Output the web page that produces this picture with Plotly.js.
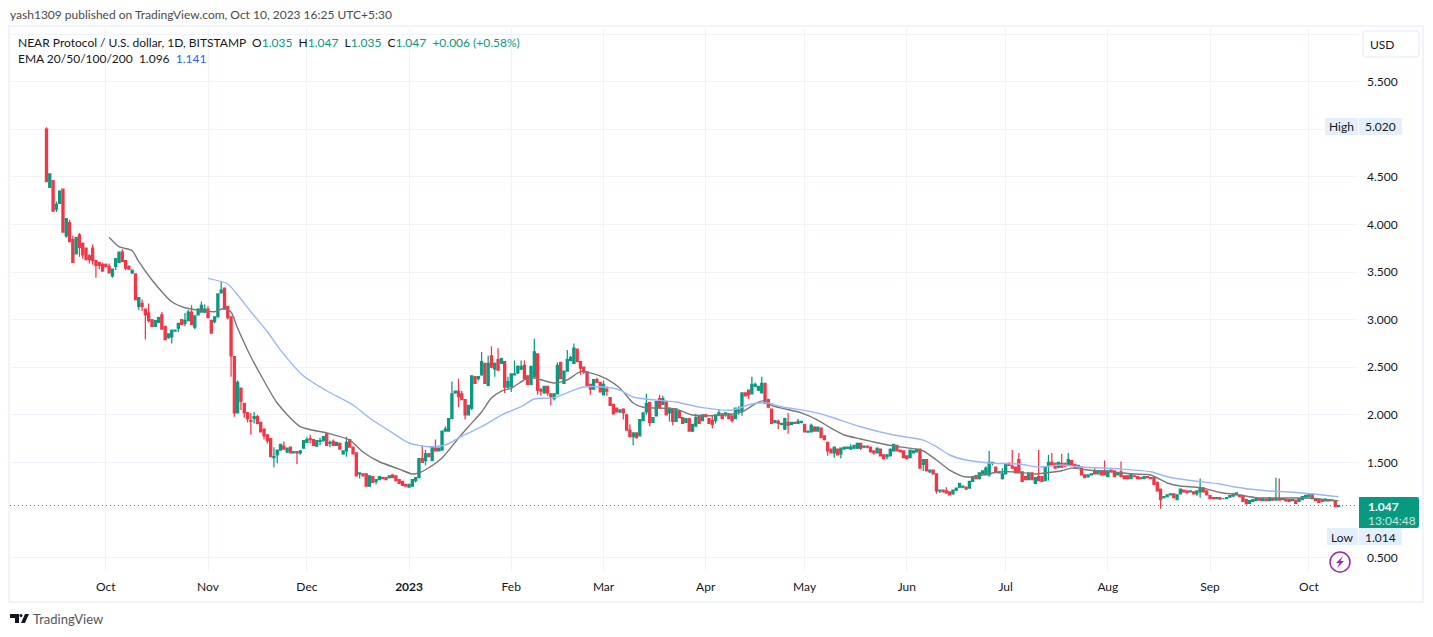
<!DOCTYPE html>
<html>
<head>
<meta charset="utf-8">
<script src="https://cdn.plot.ly/plotly-3.0.1.min.js"></script>
<style>
  html, body { margin: 0; padding: 0; background: #fff; }
  #chart { width: 1433px; height: 637px; }
</style>
</head>
<body>
<div id="chart"></div>
<script>
// daily candles, first one is 2022-09-13, one row = 10 days
const opens = [
  5.00,4.39,4.46,4.16,4.22,4.37,3.88,4.02,3.84,3.69,
  3.89,3.80,3.75,3.67,3.75,3.62,3.60,3.58,3.58,3.56,
  3.46,3.56,3.60,3.71,3.62,3.56,3.49,3.48,3.14,3.17,
  3.11,3.07,3.00,2.93,2.97,3.05,2.93,2.81,2.82,2.88,
  2.91,3.00,2.96,2.99,3.08,2.92,3.05,3.08,3.08,3.11,
  2.99,2.98,3.03,3.28,3.33,3.14,3.03,2.61,2.02,2.28,
  2.12,2.02,1.94,1.96,1.98,1.92,1.85,1.79,1.75,1.55,
  1.58,1.63,1.67,1.61,1.66,1.60,1.61,1.60,1.65,1.71,
  1.75,1.74,1.67,1.72,1.73,1.80,1.70,1.72,1.68,1.70,
  1.59,1.62,1.74,1.66,1.60,1.38,1.38,1.38,1.25,1.35,
  1.30,1.32,1.34,1.34,1.34,1.37,1.36,1.32,1.30,1.27,
  1.24,1.25,1.31,1.34,1.54,1.52,1.59,1.52,1.65,1.62,
  1.63,1.83,1.83,1.96,2.23,2.25,2.22,2.16,2.00,2.07,
  2.40,2.38,2.42,2.54,2.31,2.62,2.48,2.58,2.54,2.56,
  2.29,2.30,2.42,2.44,2.48,2.52,2.41,2.32,2.40,2.64,
  2.27,2.23,2.30,2.22,2.17,2.22,2.55,2.33,2.46,2.57,
  2.54,2.69,2.56,2.50,2.45,2.32,2.27,2.37,2.34,2.21,
  2.27,2.18,2.11,2.07,2.03,2.06,2.00,1.84,1.77,1.81,
  1.78,1.94,2.03,2.13,1.92,1.99,2.17,2.11,2.14,2.02,
  2.06,1.93,2.04,1.97,1.92,1.96,1.83,1.88,1.98,1.94,
  2.00,1.96,1.94,1.94,2.00,2.01,2.01,2.01,1.99,1.96,
  2.04,2.04,2.23,2.26,2.22,2.30,2.26,2.23,2.33,2.16,
  2.06,1.92,1.93,1.90,1.85,1.92,1.90,1.92,1.91,1.92,
  1.90,1.82,1.82,1.87,1.83,1.86,1.78,1.71,1.64,1.60,
  1.64,1.59,1.64,1.65,1.64,1.65,1.65,1.70,1.66,1.67,
  1.66,1.62,1.60,1.64,1.58,1.56,1.57,1.62,1.68,1.63,
  1.62,1.57,1.55,1.60,1.61,1.64,1.48,1.53,1.40,1.42,
  1.38,1.20,1.21,1.20,1.19,1.17,1.21,1.24,1.24,1.24,
  1.23,1.30,1.36,1.33,1.38,1.37,1.37,1.49,1.45,1.39,
  1.33,1.38,1.49,1.46,1.45,1.53,1.40,1.35,1.32,1.39,
  1.28,1.35,1.35,1.31,1.46,1.50,1.49,1.45,1.49,1.49,
  1.47,1.52,1.48,1.45,1.45,1.37,1.35,1.37,1.41,1.38,
  1.41,1.41,1.35,1.42,1.41,1.37,1.40,1.36,1.36,1.33,
  1.36,1.35,1.34,1.33,1.35,1.34,1.34,1.29,1.22,1.13,
  1.14,1.16,1.17,1.11,1.17,1.21,1.20,1.19,1.19,1.17,
  1.19,1.23,1.20,1.15,1.13,1.12,1.13,1.12,1.12,1.135,
  1.145,1.16,1.155,1.145,1.11,1.07,1.09,1.10,1.12,1.10,
  1.115,1.10,1.12,1.105,1.12,1.11,1.115,1.11,1.10,1.105,
  1.09,1.11,1.135,1.14,1.165,1.12,1.11,1.105,1.095,1.11,
  1.10,1.10,1.035
];
const highs = [
  5.02,4.53,4.46,4.24,4.36,4.37,4.06,4.05,3.88,3.87,
  3.91,3.81,3.75,3.69,3.79,3.63,3.60,3.60,3.59,3.59,
  3.53,3.64,3.71,3.74,3.62,3.57,3.52,3.48,3.23,3.21,
  3.11,3.17,3.00,2.99,3.03,3.08,2.93,2.85,2.89,2.89,
  2.96,3.00,3.07,3.10,3.15,3.04,3.12,3.19,3.16,3.14,
  3.00,3.03,3.27,3.40,3.33,3.14,3.03,2.61,2.36,2.28,
  2.12,2.03,2.02,2.03,2.00,1.92,1.85,1.79,1.75,1.66,
  1.63,1.69,1.72,1.65,1.66,1.62,1.62,1.63,1.73,1.77,
  1.79,1.74,1.73,1.76,1.77,1.81,1.73,1.74,1.71,1.71,
  1.62,1.77,1.74,1.66,1.60,1.39,1.38,1.38,1.36,1.35,
  1.32,1.35,1.35,1.34,1.36,1.37,1.36,1.32,1.30,1.27,
  1.27,1.32,1.34,1.54,1.68,1.63,1.60,1.66,1.74,1.65,
  1.83,1.88,1.96,2.35,2.25,2.38,2.25,2.16,2.10,2.41,
  2.40,2.40,2.66,2.54,2.62,2.72,2.55,2.70,2.60,2.56,
  2.40,2.43,2.57,2.52,2.57,2.57,2.41,2.51,2.80,2.64,
  2.27,2.30,2.30,2.22,2.22,2.55,2.55,2.46,2.68,2.62,
  2.75,2.69,2.56,2.50,2.45,2.32,2.37,2.39,2.34,2.36,
  2.30,2.18,2.11,2.07,2.06,2.07,2.00,1.90,1.81,1.81,
  1.95,2.02,2.22,2.13,1.97,2.14,2.21,2.20,2.14,2.07,
  2.07,2.07,2.04,1.97,1.96,1.96,1.90,2.01,2.00,2.00,
  2.01,1.96,1.99,2.00,2.06,2.01,2.02,2.02,1.99,2.07,
  2.09,2.23,2.23,2.26,2.40,2.34,2.30,2.40,2.33,2.17,
  2.06,1.94,1.95,1.91,1.97,2.02,1.92,1.92,1.96,1.93,
  1.90,1.83,1.91,1.88,1.87,1.87,1.78,1.71,1.64,1.66,
  1.64,1.65,1.66,1.66,1.69,1.68,1.71,1.70,1.67,1.67,
  1.66,1.62,1.65,1.64,1.58,1.58,1.64,1.69,1.68,1.63,
  1.62,1.57,1.63,1.62,1.64,1.64,1.53,1.53,1.42,1.42,
  1.38,1.21,1.21,1.24,1.19,1.21,1.23,1.28,1.25,1.24,
  1.30,1.35,1.37,1.39,1.41,1.46,1.62,1.50,1.45,1.40,
  1.44,1.48,1.50,1.63,1.45,1.60,1.40,1.35,1.39,1.39,
  1.34,1.63,1.35,1.45,1.58,1.60,1.49,1.50,1.59,1.49,
  1.60,1.52,1.48,1.47,1.45,1.37,1.37,1.38,1.44,1.41,
  1.41,1.52,1.41,1.42,1.41,1.39,1.51,1.36,1.36,1.38,
  1.36,1.35,1.34,1.35,1.35,1.34,1.34,1.29,1.22,1.14,
  1.16,1.17,1.17,1.16,1.22,1.21,1.20,1.20,1.19,1.20,
  1.33,1.23,1.20,1.155,1.13,1.13,1.13,1.125,1.13,1.15,
  1.17,1.18,1.155,1.145,1.11,1.10,1.11,1.125,1.12,1.12,
  1.115,1.13,1.12,1.34,1.33,1.12,1.115,1.11,1.11,1.105,
  1.12,1.14,1.155,1.17,1.175,1.12,1.11,1.105,1.115,1.11,
  1.105,1.10,1.047
];
const lows = [
  4.45,4.39,4.14,4.13,4.22,3.92,3.86,3.82,3.60,3.69,
  3.66,3.64,3.63,3.59,3.58,3.44,3.53,3.51,3.55,3.49,
  3.44,3.52,3.60,3.61,3.52,3.53,3.48,3.21,3.10,3.09,
  2.79,2.97,2.93,2.93,2.97,2.90,2.79,2.80,2.75,2.88,
  2.87,2.95,2.93,2.99,2.95,2.90,3.05,3.08,3.07,3.02,
  2.85,2.96,3.03,3.28,3.11,3.00,2.40,1.98,2.02,2.05,
  1.97,1.92,1.79,1.91,1.90,1.82,1.74,1.70,1.56,1.45,
  1.49,1.63,1.64,1.60,1.60,1.60,1.48,1.58,1.65,1.71,
  1.70,1.68,1.67,1.68,1.72,1.68,1.66,1.68,1.68,1.64,
  1.58,1.56,1.66,1.59,1.36,1.33,1.36,1.25,1.25,1.29,
  1.27,1.32,1.33,1.32,1.33,1.34,1.31,1.28,1.26,1.25,
  1.24,1.25,1.29,1.34,1.50,1.47,1.56,1.52,1.62,1.62,
  1.63,1.83,1.83,1.96,2.22,2.08,2.16,1.95,2.00,2.05,
  2.33,2.36,2.41,2.33,2.30,2.49,2.40,2.46,2.54,2.23,
  2.28,2.24,2.42,2.43,2.47,2.38,2.32,2.32,2.40,2.21,
  2.20,2.22,2.20,2.10,2.15,2.22,2.38,2.33,2.46,2.57,
  2.54,2.56,2.42,2.43,2.31,2.21,2.27,2.34,2.24,2.21,
  2.20,2.10,2.01,2.03,2.02,1.95,1.84,1.77,1.68,1.75,
  1.78,1.94,2.00,1.88,1.92,1.99,2.07,2.11,2.00,1.93,
  1.89,1.93,1.97,1.91,1.92,1.83,1.82,1.88,1.91,1.94,
  1.98,1.91,1.86,1.91,2.00,1.96,1.98,1.96,1.92,1.96,
  2.00,1.99,2.20,2.17,2.22,2.30,2.25,2.23,2.12,2.08,
  1.91,1.91,1.85,1.89,1.84,1.80,1.90,1.91,1.91,1.91,
  1.82,1.81,1.82,1.83,1.83,1.76,1.74,1.57,1.60,1.55,
  1.58,1.54,1.64,1.64,1.64,1.64,1.64,1.63,1.65,1.65,
  1.61,1.58,1.60,1.57,1.53,1.53,1.57,1.62,1.62,1.61,
  1.55,1.53,1.55,1.60,1.61,1.44,1.41,1.41,1.39,1.38,
  1.17,1.18,1.19,1.17,1.16,1.16,1.20,1.23,1.23,1.22,
  1.23,1.30,1.33,1.32,1.38,1.37,1.35,1.47,1.40,1.39,
  1.32,1.38,1.47,1.44,1.39,1.39,1.30,1.32,1.32,1.32,
  1.28,1.31,1.30,1.31,1.31,1.48,1.44,1.44,1.45,1.46,
  1.47,1.47,1.45,1.45,1.37,1.34,1.34,1.37,1.38,1.38,
  1.37,1.37,1.35,1.40,1.35,1.37,1.35,1.33,1.33,1.33,
  1.35,1.33,1.33,1.33,1.34,1.33,1.27,1.20,1.014,1.12,
  1.14,1.16,1.13,1.11,1.17,1.19,1.18,1.19,1.17,1.15,
  1.13,1.19,1.16,1.12,1.115,1.115,1.115,1.115,1.115,1.13,
  1.14,1.155,1.14,1.09,1.065,1.065,1.085,1.095,1.105,1.095,
  1.10,1.095,1.105,1.10,1.105,1.105,1.095,1.09,1.095,1.07,
  1.085,1.105,1.13,1.135,1.12,1.10,1.08,1.09,1.09,1.095,
  1.095,1.035,1.035
];
const closes = [
  4.45,4.53,4.14,4.21,4.35,3.92,4.06,3.82,3.60,3.86,
  3.76,3.68,3.63,3.63,3.62,3.57,3.57,3.51,3.56,3.49,
  3.53,3.64,3.71,3.61,3.54,3.53,3.52,3.21,3.23,3.14,
  3.05,2.99,2.93,2.99,3.02,2.90,2.79,2.85,2.89,2.89,
  2.96,2.95,2.99,3.08,2.95,3.04,3.11,3.15,3.11,3.02,
  2.86,3.03,3.27,3.31,3.11,3.02,2.62,2.02,2.34,2.14,
  2.02,1.96,1.93,1.98,1.91,1.82,1.78,1.73,1.56,1.56,
  1.63,1.69,1.64,1.65,1.60,1.61,1.60,1.62,1.73,1.74,
  1.74,1.68,1.73,1.73,1.77,1.68,1.71,1.68,1.71,1.64,
  1.62,1.71,1.66,1.59,1.36,1.39,1.36,1.25,1.36,1.29,
  1.32,1.35,1.33,1.32,1.36,1.34,1.31,1.28,1.26,1.25,
  1.27,1.32,1.34,1.54,1.50,1.59,1.56,1.66,1.62,1.65,
  1.83,1.85,1.96,2.22,2.25,2.19,2.16,2.00,2.10,2.41,
  2.33,2.40,2.56,2.33,2.54,2.50,2.54,2.47,2.59,2.29,
  2.35,2.43,2.43,2.51,2.51,2.38,2.32,2.51,2.66,2.26,
  2.25,2.30,2.23,2.19,2.22,2.52,2.38,2.46,2.58,2.60,
  2.70,2.56,2.49,2.45,2.31,2.27,2.37,2.34,2.24,2.32,
  2.25,2.10,2.01,2.03,2.05,2.02,1.84,1.77,1.81,1.76,
  1.95,2.02,2.12,1.92,1.97,2.14,2.07,2.17,2.00,2.07,
  1.93,2.06,1.97,1.91,1.96,1.83,1.90,1.97,1.91,2.00,
  1.98,1.91,1.90,2.00,2.02,1.96,2.02,1.96,1.94,2.07,
  2.05,2.23,2.20,2.21,2.32,2.32,2.30,2.33,2.12,2.08,
  1.91,1.94,1.91,1.91,1.96,1.89,1.92,1.91,1.93,1.93,
  1.82,1.83,1.89,1.83,1.87,1.76,1.74,1.62,1.60,1.66,
  1.58,1.65,1.66,1.66,1.66,1.68,1.70,1.65,1.67,1.66,
  1.61,1.60,1.65,1.57,1.54,1.58,1.64,1.69,1.62,1.61,
  1.55,1.54,1.63,1.62,1.64,1.44,1.53,1.41,1.42,1.38,
  1.20,1.21,1.19,1.18,1.16,1.21,1.23,1.28,1.25,1.22,
  1.30,1.35,1.33,1.39,1.41,1.44,1.50,1.50,1.40,1.40,
  1.38,1.48,1.47,1.44,1.39,1.39,1.30,1.32,1.39,1.32,
  1.34,1.31,1.30,1.45,1.50,1.48,1.44,1.50,1.45,1.46,
  1.53,1.47,1.45,1.47,1.37,1.34,1.37,1.38,1.38,1.41,
  1.37,1.37,1.41,1.40,1.35,1.39,1.35,1.33,1.33,1.38,
  1.35,1.33,1.33,1.35,1.34,1.33,1.27,1.20,1.11,1.14,
  1.16,1.17,1.13,1.16,1.22,1.19,1.18,1.20,1.17,1.20,
  1.23,1.19,1.16,1.12,1.12,1.13,1.115,1.12,1.13,1.15,
  1.17,1.18,1.14,1.09,1.065,1.10,1.11,1.125,1.105,1.12,
  1.10,1.13,1.105,1.125,1.105,1.12,1.095,1.09,1.11,1.07,
  1.12,1.14,1.155,1.17,1.12,1.10,1.08,1.09,1.115,1.095,
  1.105,1.035,1.047
];

// EMA lines, day = days after the first candle
const emaDarkDays = [19,22,26,28,32,35,38,42,46,51,54,56,58,62,65,70,77,85,92,96,101,107,111,113,116,120,125,128,132,135,138,141,146,148,154,158,162,165,170,174,178,181,186,191,196,201,206,211,216,218,220,229,234,238,242,247,252,257,262,266,270,274,279,284,289,294,300,303,308,311,316,324,330,335,340,344,350,356,362,367,374,382,392];
const emaDark = [3.865,3.766,3.724,3.608,3.416,3.293,3.188,3.125,3.10,3.083,3.12,3.08,2.91,2.61,2.418,2.124,1.875,1.81,1.735,1.61,1.507,1.43,1.378,1.39,1.444,1.546,1.756,1.875,2.03,2.176,2.25,2.28,2.387,2.387,2.334,2.366,2.453,2.44,2.376,2.28,2.124,2.08,2.07,2.06,1.998,1.99,1.998,2.03,2.134,2.148,2.10,2.02,1.945,1.86,1.788,1.746,1.707,1.672,1.65,1.62,1.525,1.42,1.347,1.368,1.40,1.40,1.378,1.389,1.413,1.44,1.42,1.40,1.378,1.368,1.284,1.252,1.236,1.184,1.158,1.13,1.126,1.126,1.096];
const emaBlueDays = [49,55,58,62,67,71,78,85,93,98,105,110,116,121,126,132,138,144,148,154,160,163,169,174,178,182,191,199,208,214,219,223,232,238,247,257,266,270,274,279,286,295,301,308,314,326,335,340,346,356,360,370,380,392];
const emaBlue = [3.433,3.374,3.258,3.083,2.873,2.68,2.408,2.253,2.103,1.966,1.81,1.704,1.665,1.683,1.777,1.875,1.998,2.085,2.166,2.18,2.26,2.292,2.292,2.26,2.187,2.166,2.134,2.075,2.05,2.113,2.124,2.085,2.033,1.977,1.875,1.788,1.735,1.665,1.578,1.525,1.494,1.483,1.452,1.473,1.452,1.43,1.402,1.35,1.315,1.273,1.245,1.203,1.182,1.141];

const monthDates = ['2022-10-01','2022-11-01','2022-12-01','2023-01-01','2023-02-01','2023-03-01','2023-04-01','2023-05-01','2023-06-01','2023-07-01','2023-08-01','2023-09-01','2023-10-01'];
const monthLabels = ['Oct','Nov','Dec','<b>2023</b>','Feb','Mar','Apr','May','Jun','Jul','Aug','Sep','Oct'];
const priceTicks = [0.5,1.5,2,2.5,3,3.5,4,4.5,5,5.5,6];
const priceLabels = ['0.500','1.500','2.000','2.500','3.000','3.500','4.000','4.500','5.000','5.500',''];
const lastPrice = 1.047;

const UP = '#089981', DOWN = '#f23645', TXT = '#131722', GRID = '#f0f3fa', TAG = '#e3effd';
const FONT = 'Lato, sans-serif';

const W = 1433, H = 637;
const M = { l: 10, r: 75, t: 28, b: 65 };

// page pixels -> paper coords, for the furniture round the plot
const px = x => (x - M.l) / (W - M.l - M.r);
const py = y => 1 - (y - M.t) / (H - M.t - M.b);
const dayDate = d => new Date(Date.UTC(2022, 8, 13 + d)).toISOString().slice(0, 10);

const box = (x0, y0, x1, y1, fill, line) => ({
  type: 'rect', xref: 'paper', yref: 'paper', layer: 'above',
  x0: px(x0), x1: px(x1), y0: py(y0), y1: py(y1),
  fillcolor: fill, line: { color: line || fill, width: line ? 2 : 0 }
});
const pathShape = (d, fill, line, width) => ({
  type: 'path', xref: 'paper', yref: 'paper', layer: 'above',
  path: d.replace(/(-?[\d.]+),(-?[\d.]+)/g, (m, a, b) => px(+a) + ',' + py(+b)),
  fillcolor: fill, line: { color: line || fill, width: width || 0 }
});
const label = (x, y, text, opts) => Object.assign({
  xref: 'paper', yref: 'paper', x: px(x), y: py(y), text: text, showarrow: false,
  xanchor: 'left', yanchor: 'middle', align: 'left', borderpad: 0,
  font: { family: FONT, size: 12, color: TXT }
}, opts || {});
const span = (t, c) => '<span style="color:' + c + '">' + t + '</span>';

const candleDates = opens.map((_, i) => dayDate(i));

const traces = [
  {
    type: 'candlestick', x: candleDates, open: opens, high: highs, low: lows, close: closes,
    increasing: { line: { color: UP, width: 1.25 }, fillcolor: UP },
    decreasing: { line: { color: DOWN, width: 1.25 }, fillcolor: DOWN },
    whiskerwidth: 0, hoverinfo: 'skip'
  },
  { type: 'scatter', mode: 'lines', x: emaDarkDays.map(dayDate), y: emaDark, line: { color: '#787878', width: 1.4, shape: 'spline', smoothing: 0.7 }, hoverinfo: 'skip' },
  { type: 'scatter', mode: 'lines', x: emaBlueDays.map(dayDate), y: emaBlue, line: { color: '#9ab6fb', width: 1.4, shape: 'spline', smoothing: 0.7 }, hoverinfo: 'skip' }
];

const shapes = [
  // outer frame
  box(9, 26, 1423, 602, 'rgba(0,0,0,0)', GRID),
  // last price dotted line
  { type: 'line', xref: 'paper', yref: 'y', x0: 0, x1: 1, y0: lastPrice, y1: lastPrice, line: { color: UP, width: 1, dash: '1px,3px' } },
  // USD button
  pathShape('M1366,31 L1416,31 Q1419,31 1419,34 L1419,54 Q1419,57 1416,57 L1366,57 Q1363,57 1363,54 L1363,34 Q1363,31 1366,31 Z', '#fff', GRID, 2),
  // high / low tags
  box(1325, 118, 1358, 135, TAG), box(1359, 118, 1402, 135, TAG),
  box(1327, 528, 1358, 545, TAG), box(1359, 528, 1402, 545, TAG),
  // last price tag
  pathShape('M1359,497 L1417,497 Q1419,497 1419,499 L1419,526 Q1419,528 1417,528 L1359,528 Z', UP),
  // lightning button
  { type: 'circle', xref: 'paper', yref: 'paper', layer: 'above', x0: px(1330), x1: px(1350), y0: py(552), y1: py(572), fillcolor: '#fff', line: { color: '#9c27b0', width: 1.5 } },
  pathShape('M1343,556 L1336,563 L1339.5,563 L1337,568 L1344,561 L1340.5,561 Z', '#9c27b0'),
  // TradingView mark
  pathShape('M10,614 L19,614 L19,623 L15,623 L15,618 L10,618 Z', '#131722'),
  { type: 'circle', xref: 'paper', yref: 'paper', layer: 'above', x0: px(19.5), x1: px(22.5), y0: py(614), y1: py(617), fillcolor: '#131722', line: { width: 0 } },
  pathShape('M25,614 L29,614 L25,623 L21,623 Z', '#131722')
];

const annotations = [
  label(9, 14, 'yash1309 published on TradingView.com, Oct 10, 2023 16:25 UTC+5:30', { font: { family: FONT, size: 12, color: '#4a4a4a' } }),
  label(17, 42, 'NEAR Protocol / U.S. dollar, 1D, BITSTAMP&nbsp;&nbsp;O' + span('1.035', UP) + '&nbsp;&nbsp;H' + span('1.047', UP) + '&nbsp;&nbsp;L' + span('1.035', UP) + '&nbsp;&nbsp;C' + span('1.047', UP) + '&nbsp;&nbsp;' + span('+0.006 (+0.58%)', UP)),
  label(17, 58, 'EMA 20/50/100/200&nbsp;&nbsp;1.096&nbsp;&nbsp;' + span('1.141', '#2962ff')),
  label(1382, 44, 'USD', { xanchor: 'center' }),
  label(1341, 126, 'High', { xanchor: 'center' }),
  label(1381, 126, '5.020', { xanchor: 'center' }),
  label(1342, 537, 'Low', { xanchor: 'center' }),
  label(1381, 537, '1.014', { xanchor: 'center' }),
  label(1367, 506, '<b>1.047</b>', { font: { family: FONT, size: 12, color: '#fff' } }),
  label(1367, 520, '13:04:48', { font: { family: FONT, size: 12, color: '#c4e6df' } }),
  label(32, 619, 'TradingView', { font: { family: FONT, size: 13, color: '#555' } })
];

const layout = {
  width: W, height: H,
  margin: M,
  paper_bgcolor: '#fff', plot_bgcolor: '#fff',
  showlegend: false,
  dragmode: false,
  boxgap: 0.1,
  font: { family: FONT, size: 12, color: TXT },
  xaxis: {
    type: 'date',
    range: ['2022-09-01 22:19', '2023-10-15 21:30'],
    rangeslider: { visible: false },
    tickmode: 'array', tickvals: monthDates, ticktext: monthLabels,
    ticks: '', ticklabelstandoff: 6,
    gridcolor: GRID, gridwidth: 1, showline: false, zeroline: false
  },
  yaxis: {
    side: 'right',
    range: [0.349, 6.063],
    tickmode: 'array', tickvals: priceTicks, ticktext: priceLabels,
    ticks: '', ticklabelstandoff: 8,
    gridcolor: GRID, gridwidth: 1, showline: false, zeroline: false
  },
  shapes: shapes,
  annotations: annotations
};

Plotly.newPlot('chart', traces, layout, { displayModeBar: false, staticPlot: true });
</script>
</body>
</html>
